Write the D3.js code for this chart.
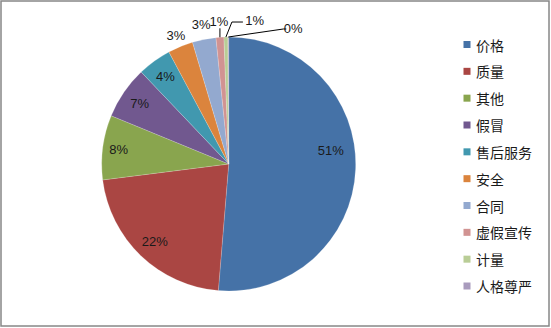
<!doctype html>
<html>
<head>
<meta charset="utf-8">
<script src="https://cdnjs.cloudflare.com/ajax/libs/d3/7.8.5/d3.min.js"></script>
<style>
  body { margin: 0; background: #fff; }
  svg { display: block; }
</style>
</head>
<body>
<svg id="chart" width="551" height="328"></svg>
<script>
// data (percent share)
var categories = ["价格", "质量", "其他", "假冒", "售后服务", "安全", "合同", "虚假宣传", "计量", "人格尊严"];
var shares = [51.3, 21.7, 8.2, 6.7, 4.3, 3.2, 3.0, 1.0, 0.5, 0.1];
var labels = ["51%", "22%", "8%", "7%", "4%", "3%", "3%", "1%", "1%", "0%"];
var colors = ["#4572A7", "#AA4643", "#89A54E", "#71588F", "#4198AF",
              "#DB843D", "#93A9CF", "#D19392", "#B9CD96", "#A99BBD"];

var svg = d3.select("#chart");
var cx = 228.7, cy = 164, R = 127;

svg.append("rect")
   .attr("x", 1).attr("y", 1)
   .attr("width", 548).attr("height", 325)
   .attr("fill", "#fff")
   .attr("stroke", "#878787")
   .attr("stroke-width", 1.5);

var pie = d3.pie().sort(null).value(d => d);
var arcs = pie(shares);
var arc = d3.arc().innerRadius(0).outerRadius(R);

var g = svg.append("g").attr("transform", "translate(" + cx + "," + cy + ")");

g.selectAll("path")
 .data(arcs)
 .enter()
 .append("path")
 .attr("d", arc)
 .attr("fill", (d, i) => colors[i])
 .attr("stroke", "#fff")
 .attr("stroke-opacity", 0.35)
 .attr("stroke-width", 0.5);

// polar helper, angle measured clockwise from 12 o'clock
function polar(a, r) { return [Math.sin(a) * r, -Math.cos(a) * r]; }

// label placement: [radius, angle shift (deg), dx, dy] -- excel style best fit
var labelLayout = [
  [103, -10, 0, 0],
  [107, 0, 0, 0],
  [111, 0, 0, 0],
  [108, 0, 0, 0],
  [108, 0, 0, 0],
  [139, 0, 0, 0],
  [142, 0, 0, 0],
  [143, 0, 0, 0],
  [143, 0, 29, -0.5],
  [143, 0, 65, 7]
];

var lab = g.selectAll("text.lbl")
 .data(arcs)
 .enter()
 .append("text")
 .attr("class", "lbl")
 .attr("font-family", "'Liberation Sans', Arial, sans-serif")
 .attr("font-size", "13px")
 .attr("fill", "#1a1a1a")
 .attr("text-anchor", "middle")
 .attr("dominant-baseline", "central")
 .attr("x", (d, i) => {
   var L = labelLayout[i];
   var a = (d.startAngle + d.endAngle) / 2 + L[1] * Math.PI / 180;
   return polar(a, L[0])[0] + L[2];
 })
 .attr("y", (d, i) => {
   var L = labelLayout[i];
   var a = (d.startAngle + d.endAngle) / 2 + L[1] * Math.PI / 180;
   return polar(a, L[0])[1] + L[3];
 })
 .text((d, i) => labels[i]);

// leader lines for the thin slices
var leaders = [
  { i: 7, pts: d => { var a = (d.startAngle + d.endAngle) / 2, p = polar(a, R); return [p, [p[0], p[1] - 9]]; } },
  { i: 8, pts: d => { var a = (d.startAngle + d.endAngle) / 2, p = polar(a, R); return [p, [p[0] + 6, p[1] - 15], [p[0] + 17, p[1] - 15]]; } },
  { i: 9, pts: d => { var a = (d.startAngle + d.endAngle) / 2, p = polar(a, R); return [p, [p[0] + 55, p[1] - 8], [p[0] + 58, p[1] - 8]]; } }
];

g.selectAll("path.leader")
 .data(leaders)
 .enter()
 .append("path")
 .attr("class", "leader")
 .attr("d", l => d3.line()(l.pts(arcs[l.i])))
 .attr("fill", "none")
 .attr("stroke", "#000")
 .attr("stroke-width", 1);

// legend
var leg = svg.append("g");
var rowY = d3.scalePoint().domain(categories).range([44.5, 286]);

leg.selectAll("rect")
 .data(categories)
 .enter()
 .append("rect")
 .attr("x", 463.5)
 .attr("y", d => rowY(d) - 3.5)
 .attr("width", 7).attr("height", 7)
 .attr("fill", (d, i) => colors[i]);

leg.selectAll("text")
 .data(categories)
 .enter()
 .append("text")
 .attr("x", 476)
 .attr("y", d => rowY(d))
 .attr("dominant-baseline", "central")
 .attr("font-family", "'Noto Sans CJK SC', sans-serif")
 .attr("font-size", "14px")
 .attr("fill", "#1a1a1a")
 .text(d => d);
</script>
</body>
</html>
